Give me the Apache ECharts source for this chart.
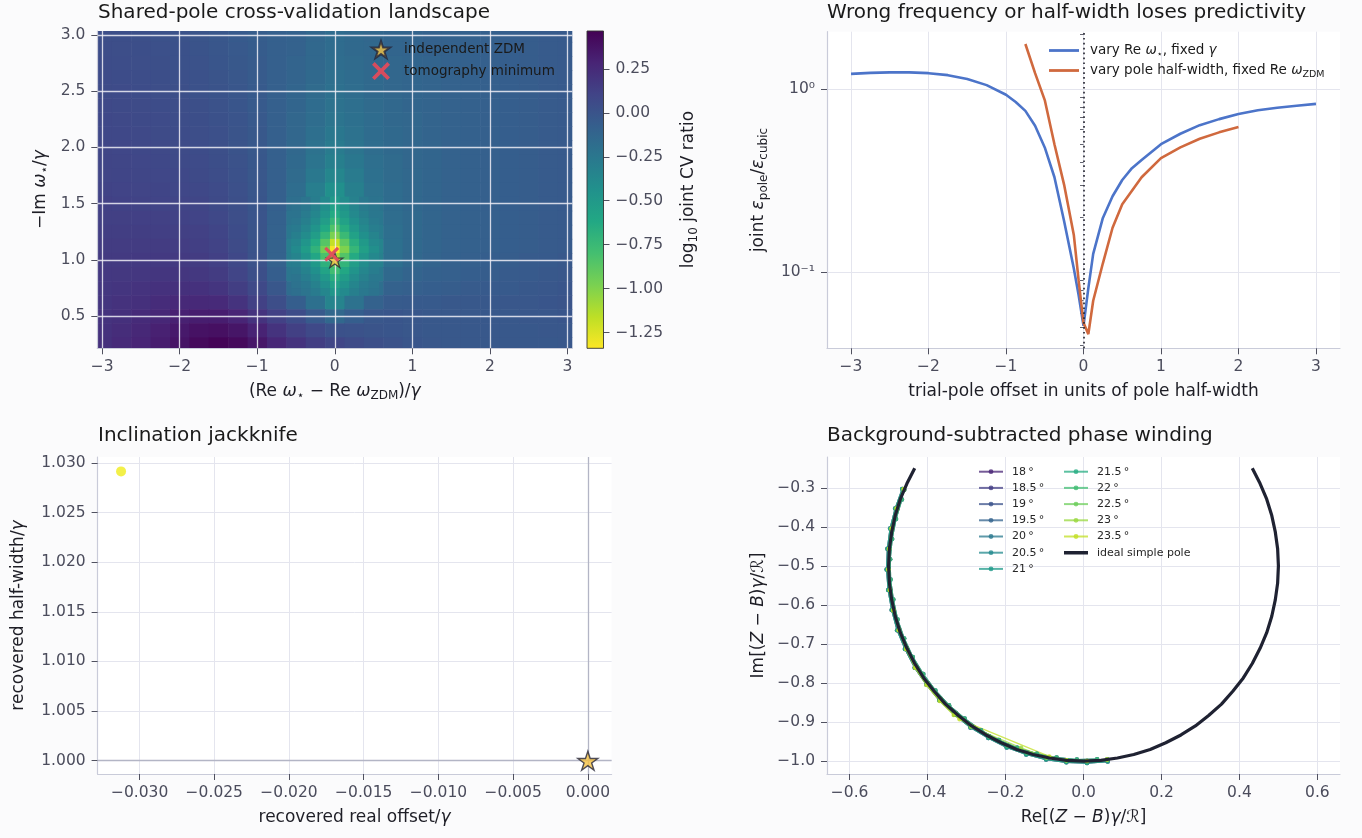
<!DOCTYPE html>
<html><head><meta charset="utf-8">
<script src="https://cdn.jsdelivr.net/npm/echarts@6.0.0/dist/echarts.min.js"></script>
<style>html,body{margin:0;padding:0;background:#fbfbfc}#c{width:1362px;height:838px}</style>
</head><body><div id="c"></div>
<script>
// ---------------- DATA ----------------
// Panel 1: shared-pole CV landscape (log10 joint CV ratio), rows top (y=3.0) to bottom (y=0.25)
const heatXs = [-3,-2.75,-2.5,-2.25,-2,-1.75,-1.5,-1.25,-1,-0.75,-0.5,-0.25,0,0.25,0.5,0.75,1,1.25,1.5,1.75,2,2.25,2.5,2.75,3];
const heatYs = [3.0,2.875,2.75,2.625,2.5,2.375,2.25,2.125,2.0,1.875,1.75,1.625,1.5,1.375,1.25,1.125,1.0,0.875,0.75,0.625,0.5,0.375,0.25];
const heatVals = [
 [0.04,0.035,0.03,0.02,0.01,0.0,-0.02,-0.04,-0.06,-0.08,-0.1,-0.13,-0.17,-0.15,-0.13,-0.12,-0.11,-0.1,-0.1,-0.09,-0.08,-0.07,-0.06,-0.05,-0.04],
 [0.045,0.04,0.035,0.025,0.015,0.005,-0.015,-0.035,-0.055,-0.08,-0.1,-0.14,-0.17,-0.15,-0.14,-0.12,-0.11,-0.1,-0.1,-0.09,-0.08,-0.07,-0.06,-0.05,-0.04],
 [0.05,0.045,0.04,0.03,0.02,0.01,-0.01,-0.03,-0.05,-0.08,-0.11,-0.14,-0.18,-0.16,-0.14,-0.13,-0.12,-0.11,-0.1,-0.09,-0.08,-0.07,-0.06,-0.05,-0.04],
 [0.055,0.05,0.045,0.035,0.025,0.015,0.0,-0.02,-0.05,-0.08,-0.11,-0.15,-0.19,-0.17,-0.15,-0.13,-0.12,-0.11,-0.1,-0.09,-0.08,-0.07,-0.06,-0.05,-0.04],
 [0.06,0.055,0.05,0.04,0.03,0.02,0.005,-0.015,-0.045,-0.08,-0.12,-0.16,-0.2,-0.18,-0.15,-0.13,-0.12,-0.11,-0.1,-0.09,-0.08,-0.07,-0.06,-0.05,-0.04],
 [0.07,0.065,0.06,0.05,0.04,0.03,0.01,-0.01,-0.04,-0.08,-0.12,-0.17,-0.21,-0.19,-0.16,-0.14,-0.12,-0.11,-0.1,-0.09,-0.08,-0.07,-0.06,-0.05,-0.04],
 [0.075,0.07,0.065,0.055,0.045,0.035,0.02,-0.005,-0.035,-0.08,-0.13,-0.18,-0.23,-0.2,-0.17,-0.14,-0.13,-0.11,-0.1,-0.09,-0.08,-0.07,-0.06,-0.05,-0.04],
 [0.08,0.075,0.07,0.06,0.05,0.04,0.025,0.0,-0.03,-0.08,-0.13,-0.19,-0.25,-0.21,-0.17,-0.15,-0.13,-0.11,-0.1,-0.09,-0.08,-0.07,-0.06,-0.05,-0.04],
 [0.09,0.085,0.08,0.07,0.06,0.05,0.03,0.005,-0.03,-0.08,-0.14,-0.21,-0.28,-0.23,-0.18,-0.15,-0.13,-0.12,-0.1,-0.09,-0.08,-0.07,-0.06,-0.05,-0.04],
 [0.095,0.09,0.085,0.075,0.065,0.055,0.035,0.01,-0.025,-0.08,-0.15,-0.23,-0.31,-0.25,-0.19,-0.16,-0.13,-0.12,-0.1,-0.09,-0.08,-0.07,-0.06,-0.05,-0.04],
 [0.1,0.095,0.09,0.085,0.075,0.065,0.045,0.015,-0.02,-0.08,-0.16,-0.26,-0.36,-0.28,-0.2,-0.16,-0.14,-0.12,-0.1,-0.09,-0.08,-0.07,-0.06,-0.05,-0.04],
 [0.11,0.105,0.1,0.095,0.085,0.075,0.055,0.025,-0.015,-0.08,-0.18,-0.3,-0.43,-0.31,-0.21,-0.17,-0.14,-0.12,-0.1,-0.09,-0.08,-0.07,-0.06,-0.05,-0.04],
 [0.12,0.115,0.11,0.105,0.1,0.09,0.065,0.03,-0.01,-0.08,-0.19,-0.35,-0.52,-0.35,-0.23,-0.17,-0.14,-0.12,-0.1,-0.09,-0.08,-0.07,-0.06,-0.05,-0.04],
 [0.13,0.13,0.125,0.12,0.115,0.105,0.08,0.04,-0.005,-0.09,-0.22,-0.42,-0.65,-0.4,-0.25,-0.18,-0.15,-0.12,-0.1,-0.09,-0.08,-0.07,-0.06,-0.05,-0.04],
 [0.14,0.14,0.14,0.135,0.13,0.12,0.095,0.05,0.0,-0.1,-0.25,-0.55,-0.88,-0.5,-0.28,-0.19,-0.15,-0.12,-0.1,-0.09,-0.08,-0.07,-0.06,-0.05,-0.04],
 [0.15,0.15,0.15,0.15,0.145,0.135,0.11,0.06,0.005,-0.1,-0.3,-0.68,-1.3,-0.68,-0.34,-0.2,-0.15,-0.12,-0.1,-0.09,-0.08,-0.07,-0.06,-0.05,-0.04],
 [0.16,0.16,0.165,0.165,0.16,0.15,0.125,0.075,0.01,-0.1,-0.29,-0.6,-1.1,-0.6,-0.32,-0.19,-0.14,-0.11,-0.09,-0.08,-0.07,-0.06,-0.05,-0.04,-0.03],
 [0.17,0.175,0.18,0.185,0.185,0.175,0.15,0.1,0.03,-0.07,-0.24,-0.45,-0.72,-0.45,-0.26,-0.15,-0.11,-0.09,-0.08,-0.07,-0.06,-0.05,-0.04,-0.03,-0.02],
 [0.18,0.19,0.2,0.21,0.215,0.21,0.19,0.14,0.07,-0.02,-0.17,-0.3,-0.48,-0.3,-0.19,-0.1,-0.08,-0.07,-0.06,-0.05,-0.04,-0.04,-0.03,-0.02,-0.01],
 [0.19,0.205,0.22,0.24,0.255,0.26,0.25,0.2,0.12,0.04,-0.07,-0.2,-0.34,-0.21,-0.1,-0.05,-0.04,-0.04,-0.03,-0.03,-0.03,-0.02,-0.02,-0.01,0.0],
 [0.2,0.22,0.245,0.27,0.3,0.32,0.32,0.28,0.2,0.12,0.05,-0.04,-0.14,-0.07,-0.02,-0.01,-0.02,-0.03,-0.03,-0.03,-0.03,-0.03,-0.02,-0.02,-0.01],
 [0.21,0.235,0.265,0.3,0.34,0.38,0.39,0.36,0.29,0.2,0.13,0.07,0.02,0.01,0.0,-0.01,-0.02,-0.03,-0.03,-0.03,-0.03,-0.03,-0.03,-0.02,-0.02],
 [0.22,0.25,0.28,0.32,0.37,0.42,0.45,0.42,0.35,0.27,0.2,0.14,0.09,0.06,0.03,0.01,-0.01,-0.02,-0.03,-0.03,-0.03,-0.03,-0.03,-0.03,-0.02]
];
// finer cells around the minimum (rows top to bottom)
const fineXs = [-0.5,-0.375,-0.25,-0.125,0,0.125,0.25,0.375,0.5];
const fineYs = [1.53125,1.46875,1.40625,1.34375,1.28125,1.21875,1.15625,1.09375,1.03125,0.96875,0.90625,0.84375,0.78125,0.71875];
const fineVals = [
 [-0.19,-0.23,-0.29,-0.37,-0.50,-0.40,-0.32,-0.26,-0.22],
 [-0.21,-0.25,-0.32,-0.42,-0.56,-0.45,-0.35,-0.28,-0.24],
 [-0.22,-0.28,-0.36,-0.47,-0.63,-0.50,-0.38,-0.31,-0.25],
 [-0.24,-0.31,-0.40,-0.53,-0.72,-0.56,-0.43,-0.34,-0.27],
 [-0.27,-0.35,-0.46,-0.62,-0.84,-0.65,-0.49,-0.38,-0.30],
 [-0.31,-0.40,-0.53,-0.72,-0.98,-0.75,-0.56,-0.43,-0.34],
 [-0.35,-0.47,-0.63,-0.86,-1.18,-0.89,-0.66,-0.50,-0.38],
 [-0.39,-0.52,-0.70,-0.96,-1.32,-0.99,-0.73,-0.55,-0.42],
 [-0.34,-0.45,-0.60,-0.82,-1.12,-0.85,-0.63,-0.48,-0.37],
 [-0.29,-0.38,-0.50,-0.68,-0.92,-0.71,-0.53,-0.41,-0.32],
 [-0.26,-0.33,-0.43,-0.58,-0.78,-0.61,-0.46,-0.36,-0.29],
 [-0.23,-0.29,-0.37,-0.49,-0.66,-0.52,-0.40,-0.32,-0.26],
 [-0.21,-0.25,-0.32,-0.42,-0.56,-0.45,-0.35,-0.28,-0.24],
 [-0.19,-0.23,-0.28,-0.36,-0.48,-0.39,-0.31,-0.26,-0.22]
];
const cbRange = [-1.34, 0.466];
const cbTicks = [-1.25,-1,-0.75,-0.5,-0.25,0,0.25];
const landXTicks = [-3,-2,-1,0,1,2,3];
const landYTicks = [0.5,1.0,1.5,2.0,2.5,3.0];
const zdmMarker = [0, 1.0];
const tomoMarker = [-0.04, 1.05];

// Panel 2: trial-pole offset vs joint error ratio
const offBlue = [-3,-2.75,-2.5,-2.25,-2,-1.75,-1.5,-1.25,-1,-0.875,-0.75,-0.625,-0.5,-0.375,-0.25,-0.125,-0.0625,0,0.0625,0.125,0.25,0.375,0.5,0.625,0.75,1,1.25,1.5,1.75,2,2.25,2.5,2.75,3];
const ratioBlue = [1.21,1.225,1.232,1.233,1.22,1.19,1.135,1.05,0.93,0.85,0.76,0.63,0.48,0.33,0.19,0.105,0.075,0.051,0.082,0.126,0.198,0.26,0.319,0.37,0.41,0.5,0.57,0.635,0.685,0.73,0.765,0.79,0.81,0.83];
const offOrange = [-0.75,-0.625,-0.5,-0.375,-0.25,-0.125,-0.0625,0,0.0625,0.125,0.25,0.375,0.5,0.75,1,1.25,1.5,1.75,2];
const ratioOrange = [1.76,1.22,0.87,0.5,0.3,0.16,0.09,0.053,0.046,0.07,0.112,0.175,0.235,0.33,0.42,0.48,0.535,0.58,0.62];
const trialXTicks = [-3,-2,-1,0,1,2,3];
const ratioMajor = [0.1, 1];
const ratioMinor = [0.04,0.05,0.06,0.07,0.08,0.09,0.2,0.3,0.4,0.5,0.6,0.7,0.8,0.9,2];
const zeroOffset = 0;

// Panel 3: inclination jackknife
const jackOffset = [-0.03124];
const jackWidth = [1.02915];
const zdmRef = [0, 1];
const jackXTicks = [-0.03,-0.025,-0.02,-0.015,-0.01,-0.005,0];
const jackYTicks = [1.0,1.005,1.01,1.015,1.02,1.025,1.03];

// Panel 4: background-subtracted phase winding
const inclinations = [18,18.5,19,19.5,20,20.5,21,21.5,22,22.5,23,23.5];
const pathA = [[-0.460,-0.305],[-0.478,-0.354],[-0.491,-0.405],[-0.498,-0.456],[-0.500,-0.509],[-0.496,-0.561],[-0.487,-0.612],[-0.473,-0.663],[-0.453,-0.711],[-0.429,-0.758],[-0.399,-0.801],[-0.366,-0.841],[-0.328,-0.877],[-0.287,-0.910],[-0.242,-0.937],[-0.195,-0.960],[-0.146,-0.978],[-0.095,-0.991],[-0.044,-0.998],[0.009,-1.000],[0.061,-0.996]];
const pathB = [[-0.465,-0.303],[-0.483,-0.353],[-0.496,-0.404],[-0.503,-0.456],[-0.505,-0.509],[-0.501,-0.562],[-0.492,-0.613],[-0.478,-0.665],[-0.458,-0.713],[-0.433,-0.761],[-0.403,-0.804],[-0.370,-0.844],[-0.331,-0.881],[-0.290,-0.914],[-0.244,-0.941],[-0.197,-0.965],[-0.147,-0.983],[-0.096,-0.996],[-0.044,-1.003],[0.009,-1.005],[0.062,-1.001]];
const pathC = [[-0.466,-0.330],[-0.481,-0.380],[-0.491,-0.431],[-0.496,-0.483],[-0.495,-0.535],[-0.488,-0.586],[-0.477,-0.637],[-0.460,-0.686],[-0.438,-0.733],[-0.411,-0.777],[-0.380,-0.819],[-0.345,-0.857],[-0.305,-0.891],[-0.263,-0.921],[-0.217,-0.946],[-0.170,-0.966],[-0.120,-0.981],[-0.069,-0.991],[-0.017,-0.996],[0.035,-0.995]];
const pathD = [[-0.461,-0.303],[-0.479,-0.353],[-0.492,-0.404],[-0.499,-0.456],[-0.501,-0.509],[-0.497,-0.562],[-0.488,-0.614],[-0.474,-0.665],[-0.455,-0.713],[-0.432,-0.761],[-0.403,-0.805],[-0.369,-0.846],[-0.333,-0.882],[-0.318,-0.893],[-0.088,-0.988],[-0.044,-0.998],[0.009,-1.000],[0.060,-0.996]];
const pathE = [[-0.462,-0.304],[-0.480,-0.353],[-0.493,-0.405],[-0.499,-0.457],[-0.501,-0.509],[-0.497,-0.562],[-0.488,-0.613],[-0.474,-0.664],[-0.455,-0.713],[-0.431,-0.760],[-0.401,-0.803],[-0.368,-0.843],[-0.330,-0.879],[-0.289,-0.912],[-0.160,-0.966],[-0.095,-0.991],[-0.044,-0.998],[0.009,-1.000],[0.061,-0.996]];
const inclPaths = [pathA,pathB,pathC,pathA,pathB,pathC,pathA,pathB,pathC,pathA,pathE,pathD];
const idealPole = [[-0.433,-0.25],[-0.453,-0.289],[-0.470,-0.329],[-0.483,-0.371],[-0.492,-0.413],[-0.498,-0.456],[-0.5,-0.5],[-0.498,-0.544],[-0.492,-0.587],[-0.483,-0.629],[-0.470,-0.671],[-0.453,-0.711],[-0.433,-0.75],[-0.410,-0.787],[-0.383,-0.821],[-0.354,-0.854],[-0.321,-0.883],[-0.287,-0.910],[-0.25,-0.933],[-0.211,-0.953],[-0.171,-0.970],[-0.129,-0.983],[-0.087,-0.992],[-0.044,-0.998],[0,-1],[0.044,-0.998],[0.087,-0.992],[0.129,-0.983],[0.171,-0.970],[0.211,-0.953],[0.25,-0.933],[0.287,-0.910],[0.321,-0.883],[0.354,-0.854],[0.383,-0.821],[0.410,-0.787],[0.433,-0.75],[0.453,-0.711],[0.470,-0.671],[0.483,-0.629],[0.492,-0.587],[0.498,-0.544],[0.5,-0.5],[0.498,-0.456],[0.492,-0.413],[0.483,-0.371],[0.470,-0.329],[0.453,-0.289],[0.433,-0.25]];
const windXTicks = [-0.6,-0.4,-0.2,0,0.2,0.4,0.6];
const windYTicks = [-1.0,-0.9,-0.8,-0.7,-0.6,-0.5,-0.4,-0.3];

// ---------------- STYLE / BUILD ----------------
const F = 'DejaVu Sans';
const VIRIDIS = ['#440154','#482475','#414487','#355f8d','#2a788e','#21918c','#22a884','#44bf70','#7ad151','#bddf26','#fde725'];
const inclColors = ['#482475','#433d84','#3b528b','#33638d','#2a788e','#23898e','#1f9a8a','#25ac82','#40bd72','#6ccd5a','#98d83e','#c2df23'];
const AXIS_LINE = '#c9cbd9', TICK = '#50515f', LABEL = '#4b4c5c', GRIDC = '#e4e5ee', NAMEC = '#1e1e26';
const STAR = 'path://M10,0 L12.25,6.91 L19.51,6.91 L13.63,11.18 L15.88,18.09 L10,13.82 L4.12,18.09 L6.37,11.18 L0.49,6.91 L7.75,6.91 Z';
const XMARK = 'path://M3,0 L10,7 L17,0 L20,3 L13,10 L20,17 L17,20 L10,13 L3,20 L0,17 L7,10 L0,3 Z';

function rich(size) {
  const s = Math.round(size * 0.7);
  return {
    n: {fontFamily: F, fontSize: size, color: NAMEC, lineHeight: size + 5},
    i: {fontFamily: F, fontSize: size, color: NAMEC, fontStyle: 'italic', lineHeight: size + 5},
    sub: {fontFamily: F, fontSize: s, color: NAMEC, lineHeight: s, verticalAlign: 'bottom'}
  };
}
function fmt(d) { return v => (v < -1e-12 ? '\u2212' : '') + Math.abs(v).toFixed(d); }
function axis(o) {
  return {
    type: o.type || 'value', gridIndex: o.grid, min: o.min, max: o.max, position: o.position,
    logBase: 10, z: o.z || 0,
    name: o.name, nameLocation: 'middle', nameGap: o.nameGap,
    nameTextStyle: {fontFamily: F, fontSize: 17, color: NAMEC, rich: rich(17)},
    axisLine: {show: o.line !== false, onZero: false, lineStyle: {color: AXIS_LINE, width: 1.2}},
    axisTick: {show: true, length: 6, customValues: o.ticks, lineStyle: {color: TICK, width: 1}},
    axisLabel: {show: true, customValues: o.ticks, formatter: o.fmt, fontFamily: F, fontSize: 15.5, color: LABEL, margin: o.margin || 11},
    splitLine: {show: o.split !== false, lineStyle: {color: o.gridColor || GRIDC, width: o.gridWidth || 1}}
  };
}
function gridCells(xs, ys, vals) {
  const out = [];
  ys.forEach((y, r) => xs.forEach((x, c) => out.push([x, y, vals[r][c]])));
  return out;
}
function cellRenderer(xs, ys) {
  const hx = Math.abs(xs[1] - xs[0]) / 2, hy = Math.abs(ys[0] - ys[1]) / 2;
  return function (params, api) {
    const x = api.value(0), y = api.value(1);
    const a = api.coord([x - hx, y + hy]), b = api.coord([x + hx, y - hy]);
    const cs = params.coordSys;
    const shape = echarts.graphic.clipRectByRect(
      {x: a[0], y: a[1], width: b[0] - a[0] + 0.6, height: b[1] - a[1] + 0.6},
      {x: cs.x, y: cs.y, width: cs.width, height: cs.height});
    if (!shape) return null;
    return {type: 'rect', shape: shape, style: {fill: api.visual('color')}};
  };
}

const legendNames = inclinations.map(v => v + '\u2009°');
const blueName = 'vary Re ω⋆, fixed γ';
const orangeName = 'vary pole half-width, fixed Re ωZDM';
const legendRich = {};
legendRich[blueName] = '{n|vary Re }{i|ω}{sub|⋆}{n|, fixed }{i|γ}';
legendRich[orangeName] = '{n|vary pole half-width, fixed Re }{i|ω}{sub|ZDM}';

const chart = echarts.init(document.getElementById('c'), null, {renderer: 'canvas'});
const option = {
  animation: false,
  backgroundColor: '#fbfbfc',
  textStyle: {fontFamily: F},
  title: [
    {text: 'Shared-pole cross-validation landscape', left: 98, top: 3},
    {text: 'Wrong frequency or half-width loses predictivity', left: 827, top: 3},
    {text: 'Inclination jackknife', left: 98, top: 426},
    {text: 'Background-subtracted phase winding', left: 827, top: 426}
  ].map(t => Object.assign(t, {padding: 0, textStyle: {fontFamily: F, fontSize: 20, fontWeight: 'normal', color: '#1a1a1a'}})),
  grid: [
    {left: 97.3, top: 31, width: 475, height: 317.3, show: false},
    {left: 587, top: 31, width: 16.5, height: 317.3, show: false},
    {left: 827, top: 31.7, width: 513, height: 316.6, show: true, backgroundColor: '#ffffff', borderWidth: 0},
    {left: 97.6, top: 457, width: 514, height: 317, show: true, backgroundColor: '#ffffff', borderWidth: 0},
    {left: 827, top: 457, width: 513, height: 317, show: true, backgroundColor: '#ffffff', borderWidth: 0}
  ],
  xAxis: [
    axis({grid: 0, min: -3.0625, max: 3.0625, ticks: landXTicks, fmt: fmt(0), z: 3,
      gridColor: 'rgba(238,238,246,0.85)', gridWidth: 1.3,
      name: '{n|(Re }{i|ω}{sub|⋆}{n| − Re }{i|ω}{sub|ZDM}{n|)/}{i|γ}', nameGap: 32}),
    {type: 'value', gridIndex: 1, min: 0, max: 1, show: false},
    axis({grid: 2, min: -3.31, max: 3.31, ticks: trialXTicks, fmt: fmt(0),
      name: '{n|trial-pole offset in units of pole half-width}', nameGap: 32}),
    axis({grid: 3, min: -0.03281, max: 0.00159, ticks: jackXTicks, fmt: fmt(3),
      name: '{n|recovered real offset/}{i|γ}', nameGap: 33}),
    axis({grid: 4, min: -0.658, max: 0.658, ticks: windXTicks, fmt: fmt(1),
      name: '{n|Re[(}{i|Z}{n| − }{i|B}{n|)}{i|γ}{n|/ℛ]}', nameGap: 33})
  ],
  yAxis: [
    axis({grid: 0, min: 0.2156, max: 3.034, ticks: landYTicks, fmt: fmt(1), z: 3, margin: 12,
      gridColor: 'rgba(238,238,246,0.85)', gridWidth: 1.3,
      name: '{n|−Im }{i|ω}{sub|⋆}{n|/}{i|γ}', nameGap: 46}),
    axis({grid: 1, min: cbRange[0], max: cbRange[1], ticks: cbTicks, fmt: fmt(2), position: 'right', line: false, split: false, margin: 12,
      name: '{n|log}{sub|10}{n| joint CV ratio}', nameGap: 74}),
    axis({grid: 2, type: 'log', min: 0.0385, max: 2.054, ticks: ratioMajor, margin: 12,
      fmt: v => Math.round(Math.log10(v)) === 0 ? '10⁰' : '10⁻¹',
      name: '{n|joint }{i|ε}{sub|pole}{n|/}{i|ε}{sub|cubic}', nameGap: 57}),
    {type: 'log', logBase: 10, gridIndex: 2, min: 0.0385, max: 2.054, position: 'left',
      axisLine: {show: false}, axisLabel: {show: false}, splitLine: {show: false},
      axisTick: {show: true, length: 3.5, customValues: ratioMinor, lineStyle: {color: TICK, width: 0.9}}},
    axis({grid: 3, min: 0.99866, max: 1.0306, ticks: jackYTicks, fmt: fmt(3), margin: 12,
      name: '{n|recovered half-width/}{i|γ}', nameGap: 68}),
    axis({grid: 4, min: -1.033, max: -0.221, ticks: windYTicks, fmt: fmt(1), margin: 12,
      name: '{n|Im[(}{i|Z}{n| − }{i|B}{n|)}{i|γ}{n|/ℛ]}', nameGap: 57})
  ],
  visualMap: [{
    type: 'continuous', show: false, seriesIndex: [0, 1], dimension: 2,
    min: cbRange[0], max: cbRange[1], inRange: {color: VIRIDIS.slice().reverse()}
  }],
  legend: [
    {left: 371, top: 40, orient: 'vertical', padding: 0, itemWidth: 18, itemHeight: 18, itemGap: 3, selectedMode: false,
      textStyle: {fontFamily: F, fontSize: 13.5, color: '#1a1a1a', padding: [0, 0, 0, 9]},
      data: ['independent ZDM', 'tomography minimum']},
    {left: 1049, top: 43.5, orient: 'vertical', padding: 0, itemWidth: 30, itemHeight: 2.8, itemGap: 4, selectedMode: false,
      icon: 'rect', itemStyle: {borderWidth: 0},
      formatter: n => legendRich[n] || n,
      textStyle: {fontFamily: F, fontSize: 13.5, color: '#1a1a1a', padding: [0, 0, 0, 6], rich: {
        n: {fontFamily: F, fontSize: 13.5, color: '#1a1a1a', lineHeight: 18},
        i: {fontFamily: F, fontSize: 13.5, color: '#1a1a1a', fontStyle: 'italic', lineHeight: 18},
        sub: {fontFamily: F, fontSize: 9.5, color: '#1a1a1a', lineHeight: 10, verticalAlign: 'bottom'}}},
      data: [blueName, orangeName]},
    {left: 978, top: 465.7, orient: 'vertical', padding: 0, itemWidth: 24, itemHeight: 6, itemGap: 4.2, selectedMode: false,
      itemStyle: {borderWidth: 0},
      textStyle: {fontFamily: F, fontSize: 11, lineHeight: 12, color: '#262626', padding: [0, 0, 0, 4]},
      data: legendNames.slice(0, 7)},
    {left: 1063, top: 465.7, orient: 'vertical', padding: 0, itemWidth: 24, itemHeight: 6, itemGap: 4.2, selectedMode: false,
      itemStyle: {borderWidth: 0},
      textStyle: {fontFamily: F, fontSize: 11, lineHeight: 12, color: '#262626', padding: [0, 0, 0, 4]},
      data: legendNames.slice(7).map(n => n).concat([{name: 'ideal simple pole',
        icon: 'path://M0,0 L24,0 M0,1.2 L24,1.2 L24,4.8 L0,4.8 Z M0,6 L24,6'}])}
  ],
  series: [
    {type: 'custom', name: 'landscape', xAxisIndex: 0, yAxisIndex: 0, data: gridCells(heatXs, heatYs, heatVals),
      z: 1, silent: true, encode: {x: 0, y: 1}, renderItem: cellRenderer(heatXs, heatYs)},
    {type: 'custom', name: 'landscape fine', xAxisIndex: 0, yAxisIndex: 0, data: gridCells(fineXs, fineYs, fineVals),
      z: 1.5, silent: true, encode: {x: 0, y: 1}, renderItem: cellRenderer(fineXs, fineYs)},
    {
      type: 'scatter', name: 'independent ZDM', xAxisIndex: 0, yAxisIndex: 0, data: [zdmMarker], z: 6,
      symbol: STAR, symbolSize: 16, symbolKeepAspect: true, silent: true,
      itemStyle: {color: '#f5c242', borderColor: '#26263a', borderWidth: 1.3}
    },
    {
      type: 'scatter', name: 'tomography minimum', xAxisIndex: 0, yAxisIndex: 0, data: [tomoMarker], z: 7,
      symbol: XMARK, symbolSize: 15, symbolKeepAspect: true, silent: true,
      itemStyle: {color: '#e04b5c', opacity: 0.95}
    },
    {
      type: 'custom', name: 'colorbar', xAxisIndex: 1, yAxisIndex: 1, silent: true,
      data: [[0, cbRange[0], 1, cbRange[1]]],
      renderItem(params, api) {
        const a = api.coord([api.value(0), api.value(3)]);
        const b = api.coord([api.value(2), api.value(1)]);
        return {type: 'rect', shape: {x: a[0], y: a[1], width: b[0] - a[0], height: b[1] - a[1]},
          style: {fill: new echarts.graphic.LinearGradient(0, 0, 0, 1,
            VIRIDIS.map((c, i) => ({offset: i / (VIRIDIS.length - 1), color: c}))),
            stroke: '#333', lineWidth: 0.9}};
      }
    },
    {
      type: 'line', name: blueName, xAxisIndex: 2, yAxisIndex: 2,
      data: offBlue.map((x, i) => [x, ratioBlue[i]]), symbol: 'none', showSymbol: false, silent: true,
      lineStyle: {color: '#4c74c9', width: 2.6}, itemStyle: {color: '#4c74c9'}, z: 3,
      markLine: {silent: true, symbol: ['none', 'none'], label: {show: false},
        lineStyle: {color: '#2b2b36', width: 1.7, type: [1.7, 3.2]}, data: [{xAxis: zeroOffset}]}
    },
    {
      type: 'line', name: orangeName, xAxisIndex: 2, yAxisIndex: 2,
      data: offOrange.map((x, i) => [x, ratioOrange[i]]), symbol: 'none', showSymbol: false, silent: true,
      lineStyle: {color: '#d0693e', width: 2.6}, itemStyle: {color: '#d0693e'}, z: 3
    },
    {
      type: 'scatter', name: 'jackknife', xAxisIndex: 3, yAxisIndex: 4,
      data: jackOffset.map((x, i) => [x, jackWidth[i]]), symbolSize: 10, silent: true,
      itemStyle: {color: '#f0ec1c'}, z: 4,
      markLine: {silent: true, symbol: ['none', 'none'], label: {show: false},
        lineStyle: {color: '#b3b5c5', width: 1.3, type: 'solid'},
        data: [{xAxis: zdmRef[0]}, {yAxis: zdmRef[1]}]}
    },
    {
      type: 'scatter', name: 'ZDM reference', xAxisIndex: 3, yAxisIndex: 4, data: [zdmRef], z: 6,
      symbol: STAR, symbolSize: 20, symbolKeepAspect: true, silent: true,
      itemStyle: {color: '#f5c242', borderColor: '#26263a', borderWidth: 1.4}
    }
  ].concat(inclinations.map((inc, i) => ({
    type: 'line', name: legendNames[i], xAxisIndex: 4, yAxisIndex: 5, data: inclPaths[i],
    symbol: 'circle', symbolSize: 4.5, showSymbol: true, silent: true, z: 3,
    lineStyle: {color: inclColors[i], width: 1.3, opacity: 0.75},
    itemStyle: {color: inclColors[i], opacity: 0.8}
  }))).concat([{
    type: 'line', name: 'ideal simple pole', xAxisIndex: 4, yAxisIndex: 5, data: idealPole,
    symbol: 'none', showSymbol: false, silent: true, z: 5,
    lineStyle: {color: '#1f2232', width: 3.2}, itemStyle: {color: '#1f2232'}
  }])
};
chart.setOption(option);
</script></body></html>
